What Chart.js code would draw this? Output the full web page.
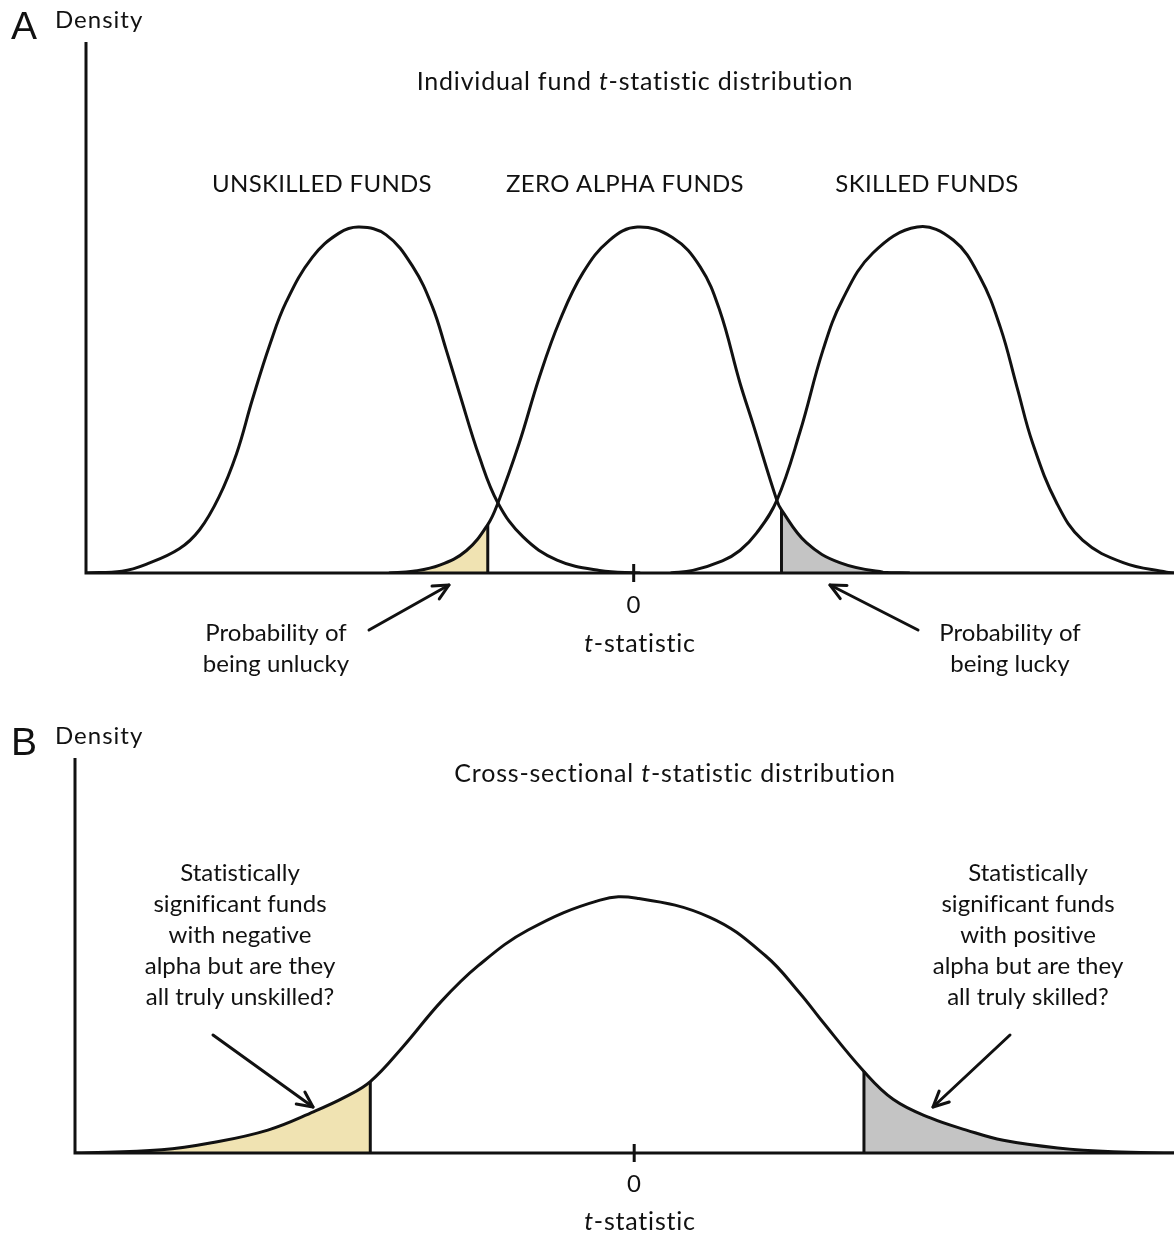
<!DOCTYPE html>
<html>
<head>
<meta charset="utf-8">
<script src="https://cdn.jsdelivr.net/npm/chart.js@4.4.1/dist/chart.umd.min.js"></script>
<style>
  html, body { margin: 0; padding: 0; background: #fff; }
  #wrap { position: relative; width: 1174px; height: 1234px; }
  canvas { position: absolute; left: 0; }
  #chartA { top: 0; }
  #chartB { top: 700px; }
</style>
</head>
<body>
<div id="wrap">
  <canvas id="chartA" width="1174" height="700"></canvas>
  <canvas id="chartB" width="1174" height="534"></canvas>
</div>
<script>
// Panel A - individual fund t-statistic curves (t, density)
const tUnskilled = [-5.93, -5.54, -5.28, -4.92, -4.70, -4.49, -4.30, -4.13, -3.94, -3.76, -3.48, -3.19, -2.97, -2.68, -2.39, -2.18, -2.03, -1.89, -1.67, -1.47, -1.20, -0.83, -0.37, 0.07];
const dUnskilled = [0, 0.002, 0.010, 0.028, 0.050, 0.088, 0.138, 0.200, 0.264, 0.314, 0.365, 0.393, 0.400, 0.391, 0.354, 0.308, 0.258, 0.209, 0.134, 0.081, 0.042, 0.015, 0.003, 0];

const tZero = [-2.65, -2.39, -2.10, -1.81, -1.58, -1.47, -1.24, -1.02, -0.80, -0.55, -0.26, 0.04, 0.42, 0.72, 0.93, 1.15, 1.29, 1.55, 1.60, 1.87, 2.23, 2.70, 2.99];
const dZero = [0, 0.002, 0.009, 0.026, 0.056, 0.081, 0.150, 0.227, 0.292, 0.347, 0.385, 0.400, 0.388, 0.354, 0.304, 0.220, 0.173, 0.084, 0.073, 0.035, 0.012, 0.001, 0];

const tSkilled = [0.40, 0.64, 0.96, 1.15, 1.33, 1.55, 1.80, 2.05, 2.26, 2.59, 3.07, 3.46, 3.75, 3.97, 4.15, 4.32, 4.58, 4.86, 5.30, 5.77, 5.85];
const dSkilled = [0, 0.003, 0.014, 0.026, 0.046, 0.084, 0.163, 0.258, 0.316, 0.370, 0.400, 0.385, 0.342, 0.284, 0.215, 0.150, 0.081, 0.038, 0.012, 0.001, 0];

const critA = [-1.58, 1.60];   // unlucky / lucky cut-offs
const groupLabels = ['UNSKILLED FUNDS', 'ZERO ALPHA FUNDS', 'SKILLED FUNDS'];

// Panel B - cross-sectional distribution
const tCross = [-6.06, -5.12, -4.58, -3.97, -3.47, -3.13, -2.86, -2.51, -2.09, -1.69, -1.15, -0.37, 0.03, 0.82, 1.42, 1.80, 2.02, 2.49, 2.81, 3.21, 3.60, 4.00, 4.59, 5.19, 5.85];
const dCross = [0, 0.005, 0.016, 0.036, 0.065, 0.088, 0.112, 0.166, 0.238, 0.294, 0.350, 0.397, 0.400, 0.370, 0.310, 0.250, 0.210, 0.128, 0.084, 0.055, 0.036, 0.020, 0.008, 0.002, 0];

const critB = [-2.86, 2.49];
const xTicks = [0];

const FONT = 'Lato, "Open Sans", sans-serif';
const INK = '#111';
const YELLOW = '#f0e3b2';
const GREY = '#c4c4c4';

function pts(xs, ys) { return xs.map((x, i) => ({ x: x, y: ys[i] })); }
function tail(xs, ys, cut, left) {
  return pts(xs, ys).filter(p => left ? p.x <= cut : p.x >= cut);
}
function cutLine(xs, ys, cut) {
  const i = xs.indexOf(cut);
  return [{ x: cut, y: 0 }, { x: cut, y: ys[i] }];
}

function curve(data) {
  return { data: data, borderColor: INK, borderWidth: 3, pointRadius: 0, fill: false,
           tension: 0.4, order: 1 };
}
function shade(data, color) {
  return { data: data, borderWidth: 0, borderColor: 'rgba(0,0,0,0)', backgroundColor: color,
           pointRadius: 0, fill: 'origin', tension: 0.4, order: 3 };
}
function vline(data) {
  return { data: data, borderColor: INK, borderWidth: 3, pointRadius: 0, tension: 0, order: 2 };
}

function rich(ctx, parts, cx, cy, size, spacing) {
  ctx.letterSpacing = (spacing === undefined ? 0.4 : spacing) + 'px';
  let w = 0;
  parts.forEach(p => { ctx.font = (p[1] ? 'italic ' : '') + size + 'px ' + FONT; w += ctx.measureText(p[0]).width; });
  let x = cx - w / 2;
  ctx.textAlign = 'left';
  ctx.textBaseline = 'middle';
  ctx.fillStyle = INK;
  parts.forEach(p => {
    ctx.font = (p[1] ? 'italic ' : '') + size + 'px ' + FONT;
    ctx.fillText(p[0], x, cy);
    x += ctx.measureText(p[0]).width;
  });
  ctx.letterSpacing = '0px';
}
function lines(ctx, arr, cx, y0, step, size) {
  arr.forEach((s, i) => rich(ctx, [[s, false]], cx, y0 + i * step, size, 0.05));
}
function arrow(ctx, x1, y1, x2, y2) {
  const a = Math.atan2(y2 - y1, x2 - x1), h = 17, s = 0.45;
  ctx.save();
  ctx.strokeStyle = INK; ctx.lineWidth = 3; ctx.lineCap = 'round'; ctx.lineJoin = 'round';
  ctx.beginPath(); ctx.moveTo(x1, y1); ctx.lineTo(x2, y2); ctx.stroke();
  ctx.beginPath();
  ctx.moveTo(x2 - h * Math.cos(a - s), y2 - h * Math.sin(a - s));
  ctx.lineTo(x2, y2);
  ctx.lineTo(x2 - h * Math.cos(a + s), y2 - h * Math.sin(a + s));
  ctx.stroke();
  ctx.restore();
}

// axes drawn from the scales (L-shaped frame + single tick at 0)
function drawAxes(chart, tickHalf, labelY) {
  const ctx = chart.ctx, xs = chart.scales.x, ys = chart.scales.y, area = chart.chartArea;
  const y0 = ys.getPixelForValue(0), xl = xs.getPixelForValue(xs.min);
  ctx.save();
  ctx.strokeStyle = INK; ctx.lineWidth = 3; ctx.lineCap = 'butt';
  ctx.beginPath();
  ctx.moveTo(xl, area.top); ctx.lineTo(xl, y0); ctx.lineTo(area.right, y0);
  ctx.stroke();
  xTicks.forEach(v => {
    const px = xs.getPixelForValue(v);
    ctx.beginPath(); ctx.moveTo(px, y0 - tickHalf); ctx.lineTo(px, y0 + tickHalf); ctx.stroke();
    rich(ctx, [[String(v), false]], px, labelY, 24);
  });
  ctx.restore();
}

function panelLetter(ctx, letter, y, dy) {
  ctx.fillStyle = INK; ctx.textAlign = 'left'; ctx.textBaseline = 'alphabetic';
  ctx.font = '39px "Liberation Sans", Arial, sans-serif';
  ctx.fillText(letter, 11, y);
  ctx.font = '24px ' + FONT;
  ctx.letterSpacing = '1px';
  ctx.fillText('Density', 55, y - dy);
  ctx.letterSpacing = '0px';
}

const decoA = {
  id: 'decoA',
  afterDatasetsDraw(chart) {
    const ctx = chart.ctx;
    drawAxes(chart, 9, 605);
    ctx.save();
    panelLetter(ctx, 'A', 39, 11);
    rich(ctx, [['Individual fund ', false], ['t', true], ['-statistic distribution', false]], 635, 82, 25, 0.8);
    const centers = [322, 625, 927];
    groupLabels.forEach((s, i) => rich(ctx, [[s, false]], centers[i], 184, 24, 0.3));
    rich(ctx, [['t', true], ['-statistic', false]], 640, 644, 25, 0.8);
    lines(ctx, ['Probability of', 'being unlucky'], 276, 633, 31, 24);
    lines(ctx, ['Probability of', 'being lucky'], 1010, 633, 31, 24);
    arrow(ctx, 369, 630, 449, 585);
    arrow(ctx, 918, 630, 830, 585);
    ctx.restore();
  }
};

const decoB = {
  id: 'decoB',
  afterDatasetsDraw(chart) {
    const ctx = chart.ctx;
    drawAxes(chart, 9, 484);
    ctx.save();
    panelLetter(ctx, 'B', 55, 11);
    rich(ctx, [['Cross-sectional ', false], ['t', true], ['-statistic distribution', false]], 675, 74, 25, 0.8);
    lines(ctx, ['Statistically', 'significant funds', 'with negative', 'alpha but are they', 'all truly unskilled?'], 240, 173, 31, 24);
    lines(ctx, ['Statistically', 'significant funds', 'with positive', 'alpha but are they', 'all truly skilled?'], 1028, 173, 31, 24);
    rich(ctx, [['t', true], ['-statistic', false]], 640, 522, 25, 0.8);
    arrow(ctx, 213, 335, 313, 407);
    arrow(ctx, 1010, 335, 933, 407);
    ctx.restore();
  }
};

function baseOptions(xmin, xmax, ymax, pad) {
  return {
    responsive: false,
    animation: false,
    layout: { padding: pad },
    plugins: { legend: { display: false }, tooltip: { enabled: false } },
    scales: {
      x: { type: 'linear', min: xmin, max: xmax, display: false },
      y: { type: 'linear', min: 0, max: ymax, display: false }
    }
  };
}

new Chart(document.getElementById('chartA'), {
  type: 'line',
  data: {
    datasets: [
      shade(tail(tZero, dZero, critA[0], true), YELLOW),
      shade(tail(tZero, dZero, critA[1], false), GREY),
      vline(cutLine(tZero, dZero, critA[0])),
      vline(cutLine(tZero, dZero, critA[1])),
      curve(pts(tUnskilled, dUnskilled)),
      curve(pts(tZero, dZero)),
      curve(pts(tSkilled, dSkilled))
    ]
  },
  options: baseOptions(-5.93, 5.85, 0.614, { left: 86, right: 0, top: 42, bottom: 127 }),
  plugins: [decoA]
});

new Chart(document.getElementById('chartB'), {
  type: 'line',
  data: {
    datasets: [
      shade(tail(tCross, dCross, critB[0], true), YELLOW),
      shade(tail(tCross, dCross, critB[1], false), GREY),
      vline(cutLine(tCross, dCross, critB[0])),
      vline(cutLine(tCross, dCross, critB[1])),
      curve(pts(tCross, dCross))
    ]
  },
  options: baseOptions(-6.06, 5.85, 0.620, { left: 75, right: 0, top: 58, bottom: 81 }),
  plugins: [decoB]
});
</script>
</body>
</html>
